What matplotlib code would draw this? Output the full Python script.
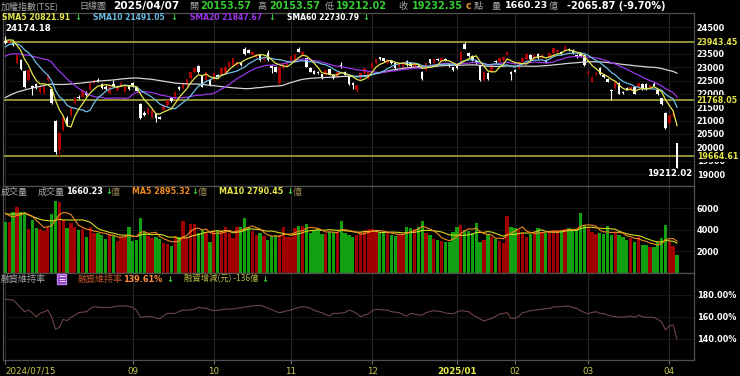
import numpy as np
import matplotlib.pyplot as plt

# daily candles, 2024/07/15 .. 2025/04/07
opens = [24000, 23920, 23900, 23150, 23270, 22860, 22520, 22290, 22360, 22080,
         22050, 22520, 22170, 21000, 19900, 20650, 21090, 21210, 21650, 21900,
         21900, 22050, 22150, 22400, 22520, 22360, 22270, 22020, 22370, 22150,
         22270, 22090, 22300, 22400, 22270, 21620, 21300, 21270, 21120, 21270,
         21130, 21400, 21580, 21840, 21835, 22270, 22210, 22330, 22580, 22830,
         23040, 22670, 22520, 22520, 22520, 22710, 22710, 22770, 23020, 23080,
         23080, 23145, 23670, 23640, 23460, 23370, 23455, 23270, 23520, 23080,
         23020, 22400, 22960, 23020, 23210, 23210, 23670, 23460, 23330, 22960,
         22870, 22830, 22730, 22710, 22920, 22710, 22650, 23080, 22830, 22670,
         22400, 22150, 22580, 22770, 22580, 22960, 23145, 23370, 23330, 23145,
         23250, 23145, 23020, 23020, 23230, 23170, 23020, 23050, 22830, 22895,
         23290, 23170, 23320, 23250, 23300, 23120, 22995, 23080, 23145, 23870,
         23545, 23420, 23250, 23080, 22520, 22800, 22830, 23230, 23210, 23270,
         23460, 22830, 22895, 22960, 23210, 23295, 23455, 23330, 23495, 23330,
         23270, 23330, 23520, 23580, 23580, 23620, 23700, 23640, 23460, 23520,
         23460, 22770, 22460, 22710, 22960, 22710, 22570, 22150, 22210, 22420,
         22070, 22210, 22150, 22250, 22270, 22370, 22370, 22210, 22370, 22150,
         21835, 21300, 20900, 21200, 20153.57]
highs = [24174.18, 24060, 23960, 23480, 23310, 22900, 22920, 22340, 22420, 22300,
         22320, 22740, 22200, 21030, 20560, 21180, 21160, 21480, 21860, 21960,
         22170, 22100, 22420, 22560, 22580, 22400, 22330, 22290, 22520, 22320,
         22440, 22290, 22350, 22450, 22300, 21650, 21350, 21480, 21420, 21300,
         21160, 21600, 21780, 21880, 22100, 22300, 22440, 22560, 22850, 22990,
         23080, 22700, 22850, 22560, 22790, 22740, 22980, 23040, 23230, 23350,
         23230, 23170, 23760, 23680, 23600, 23510, 23480, 23410, 23640, 23110,
         23050, 23040, 23160, 23160, 23440, 23510, 23750, 23600, 23360, 22990,
         22900, 22860, 22760, 22910, 22950, 22740, 22850, 23210, 22860, 22700,
         22430, 22350, 22790, 22980, 22850, 23170, 23310, 23400, 23360, 23290,
         23280, 23170, 23170, 23230, 23260, 23200, 23170, 23080, 22860, 23170,
         23320, 23310, 23350, 23350, 23330, 23150, 23020, 23110, 23600, 23950,
         23570, 23450, 23280, 23100, 22850, 22830, 23100, 23260, 23350, 23420,
         23600, 22860, 22920, 23230, 23350, 23520, 23480, 23480, 23520, 23480,
         23300, 23540, 23730, 23660, 23610, 23830, 23730, 23670, 23490, 23550,
         23490, 22890, 22670, 22810, 22990, 22740, 22600, 22180, 22480, 22450,
         22100, 22240, 22290, 22280, 22420, 22400, 22400, 22350, 22460, 22180,
         21860, 21330, 21220, 21320, 20153.57]
lows = [23880, 23890, 23780, 23110, 22880, 22230, 22480, 21960, 22180, 22040,
        22000, 22490, 21620, 19760, 19662, 20600, 20800, 21180, 21620, 21820,
        21880, 21930, 22130, 22380, 22430, 22180, 22150, 21990, 22280, 22120,
        22250, 22060, 22150, 22250, 22100, 21060, 21180, 21240, 21100, 20950,
        21050, 21380, 21560, 21700, 21800, 22150, 22190, 22300, 22560, 22800,
        22800, 22240, 22500, 22300, 22500, 22600, 22690, 22750, 23000, 23060,
        23060, 23050, 23470, 23520, 23440, 23350, 23250, 23250, 23250, 22770,
        22810, 22380, 22940, 23000, 23190, 23190, 23560, 23440, 23000, 22810,
        22730, 22750, 22560, 22690, 22690, 22560, 22630, 22970, 22690, 22350,
        22200, 22085, 22560, 22750, 22560, 22940, 23120, 23280, 23210, 23120,
        23120, 22940, 23000, 23000, 23060, 23020, 23000, 22980, 22510, 22870,
        23120, 23150, 23250, 23230, 23230, 23020, 22870, 22940, 23120, 23680,
        23400, 23250, 23120, 22500, 22500, 22520, 22810, 23160, 23190, 23250,
        23440, 22520, 22810, 22940, 23190, 23270, 23270, 23310, 23310, 23310,
        23160, 23310, 23500, 23560, 23470, 23600, 23620, 23500, 23350, 23370,
        23060, 22710, 22440, 22690, 22720, 22600, 22440, 21780, 22190, 21980,
        21990, 22130, 22130, 21980, 22250, 22150, 22130, 22190, 22290, 21970,
        21600, 20690, 20880, 21150, 19212.02]
closes = [23916, 24010, 23830, 23440, 22920, 22270, 22890, 22230, 22210, 22270,
          22300, 22710, 21670, 19840, 20520, 21150, 20840, 21460, 21835, 21840,
          22150, 21960, 22400, 22520, 22450, 22210, 22170, 22270, 22300, 22300,
          22420, 22270, 22200, 22300, 22120, 21090, 21210, 21460, 21400, 21090,
          21070, 21585, 21760, 21720, 22084, 22170, 22420, 22540, 22830, 22960,
          22830, 22270, 22830, 22330, 22770, 22620, 22960, 23020, 23210, 23330,
          23210, 23080, 23495, 23540, 23580, 23495, 23270, 23395, 23270, 22960,
          22830, 23020, 23145, 23145, 23420, 23495, 23580, 23580, 23020, 22830,
          22745, 22770, 22580, 22895, 22710, 22580, 22830, 22990, 22710, 22370,
          22330, 22330, 22770, 22960, 22830, 23145, 23290, 23300, 23230, 23270,
          23145, 22960, 23145, 23210, 23080, 23045, 23145, 23000, 22540, 23145,
          23145, 23290, 23270, 23330, 23250, 23045, 22895, 22960, 23580, 23700,
          23420, 23270, 23145, 22520, 22830, 22545, 23080, 23180, 23330, 23395,
          23580, 22745, 22830, 23210, 23330, 23495, 23295, 23455, 23330, 23455,
          23180, 23520, 23710, 23640, 23495, 23770, 23640, 23520, 23370, 23395,
          23080, 22830, 22650, 22795, 22745, 22620, 22460, 22100, 22460, 22000,
          22020, 22150, 22270, 22000, 22400, 22170, 22150, 22330, 22310, 21995,
          21620, 20710, 21200, 21298.22, 19232.35]

# closes before the window, only used to start the moving averages
pre_closes = [19527, 19710, 19949, 20365, 20126, 20247, 20386, 20396,
              20222, 20330, 20523, 20666, 20552, 20707, 20858, 20718, 20736, 20971,
              21173, 21258, 21264, 21164, 21275, 21473, 21535, 21590, 21780, 21489,
              21375, 21174,
              21536, 21356, 21858, 21902, 21858, 21947, 22122, 22345, 22504, 22497,
              22777, 23334, 23406, 23253, 22882, 22879, 23062, 22937, 23032,
              23105, 23129, 23500, 23544, 23556, 23878, 23900, 23878, 24390, 23916]

# turnover, 億
volumes = [4727, 4727, 5657, 6060, 5595, 5657, 4014, 4882, 4107, 4014,
           3890, 4355, 5440, 6680, 6556, 4882, 4169, 4634, 4262, 3952,
           4014, 3332, 4262, 3704, 3642, 3487, 3084, 3580, 3487, 2960,
           3270, 3332, 4200, 2960, 3022, 5099, 3735, 3394, 3177, 3332,
           3084, 2774, 2619, 2495, 3394, 3270, 4820, 3177, 4510, 4510,
           3642, 3952, 3642, 2867, 3952, 3890, 3952, 4200, 3642, 3177,
           4262, 4262, 5037, 4200, 3890, 3487, 3642, 3394, 3022, 3394,
           3487, 3487, 4262, 3270, 3332, 4107, 4324, 4324, 4510, 3704,
           3952, 4014, 3580, 3580, 3797, 3797, 3797, 4820, 3704, 3487,
           3332, 3487, 3797, 3952, 4014, 4014, 3797, 3704, 3642, 3704,
           3487, 3394, 3580, 3487, 4262, 4169, 4014, 4262, 4820, 3642,
           3487, 3084, 3022, 2960, 2867, 2867, 3797, 4262, 4417, 3952,
           3890, 3642, 4634, 2867, 3022, 3580, 3332, 3084, 2960, 2712,
           5254, 4262, 4107, 3952, 3642, 3332, 3580, 3704, 4107, 3797,
           3642, 3797, 3952, 3952, 3952, 4014, 4107, 3952, 4014, 5502,
           4417, 4262, 3797, 3580, 3642, 3580, 4324, 3487, 3704, 3487,
           3332, 3022, 3177, 2867, 3332, 2557, 2557, 2402, 2402, 2867,
           3177, 4417, 2867, 2464, 1660.23]
pre_volumes = [5200, 5600, 5900, 5400, 5100, 5800, 6200, 5500, 5300]

# 融資維持率 (%)
margin_ratio = [176.0, 175.8, 175.4, 172.0, 168.0, 164.7, 166.2, 163.5, 160.1, 163.2,
                164.5, 166.2, 160.0, 148.5, 150.3, 157.7, 156.5, 159.5, 161.5, 163.8,
                164.2, 164.7, 167.5, 169.3, 169.0, 168.5, 168.7, 168.3, 169.2, 169.9,
                169.8, 170.0, 169.5, 168.7, 166.0, 159.5, 159.8, 160.2, 160.1, 158.9,
                158.3, 161.0, 163.2, 163.0, 163.2, 164.8, 166.2, 166.0, 166.5, 166.9,
                168.7, 168.0, 167.8, 166.5, 165.6, 166.0, 166.5, 166.9, 167.0, 167.2,
                167.8, 168.5, 169.0, 169.5, 169.9, 170.2, 170.5, 169.5, 167.8, 166.5,
                165.0, 163.8, 164.5, 165.5, 166.2, 167.5, 168.5, 169.3, 168.8, 167.8,
                166.0, 164.8, 163.8, 162.0, 160.7, 163.2, 163.0, 163.5, 163.8, 166.2,
                165.0, 163.2, 160.1, 161.5, 162.6, 165.5, 166.9, 166.5, 166.2, 166.0,
                164.7, 164.2, 163.8, 162.0, 160.7, 163.0, 162.5, 161.8, 161.5, 163.8,
                164.8, 165.6, 165.2, 164.7, 163.5, 163.2, 162.6, 164.5, 165.6, 165.2,
                164.7, 162.0, 160.1, 158.0, 156.2, 157.5, 158.5, 160.5, 162.5, 163.2,
                163.8, 158.6, 158.6, 160.5, 163.8, 164.5, 165.6, 166.0, 166.5, 166.9,
                167.5, 167.8, 169.0, 169.3, 169.3, 169.6, 169.9, 168.5, 167.8, 165.5,
                164.0, 162.6, 164.0, 164.7, 163.2, 163.0, 161.5, 160.7, 160.0, 159.5,
                160.0, 159.8, 160.7, 159.5, 161.5, 160.1, 159.5, 159.5, 159.5, 157.5,
                155.5, 148.0, 151.6, 152.5, 139.61]

levels = [23943.45, 21768.05, 19664.61]
price_ticks = [19000, 19500, 20000, 20500, 21000, 21500, 22000, 22500, 23000, 23500, 24500]
month_idx = [0, 33, 54, 74, 95, 117, 132, 151, 172]
month_labels = ['2024/07/15', '09', '10', '11', '12', '2025/01', '02', '03', '04']

CJK = ['Noto Sans CJK TC', 'DejaVu Sans']
GRAY = '#a8a8a8'
GREEN_TXT = '#33cc33'
UP = '#b00000'
DOWN = '#ffffff'

n = len(closes)
x = np.arange(n)


def sma(values, pre, w):
    full = np.concatenate([pre, values])
    out = np.convolve(full, np.ones(w) / w, mode='valid')
    return out[-len(values):]


sma5 = sma(closes, pre_closes, 5)
sma10 = sma(closes, pre_closes, 10)
sma20 = sma(closes, pre_closes, 20)
sma60 = sma(closes, pre_closes, 60)
vma5 = sma(volumes, pre_volumes, 5)
vma10 = sma(volumes, pre_volumes, 10)

fig = plt.figure(figsize=(7.4, 3.76), dpi=100, facecolor='black')


def panel(top, bottom):
    ax = fig.add_axes([3 / 740, 1 - bottom / 376, 691 / 740, (bottom - top) / 376])
    ax.set_facecolor('black')
    for s in ax.spines.values():
        s.set_color('#505050')
        s.set_linewidth(0.9)
    ax.yaxis.tick_right()
    ax.tick_params(axis='y', length=0, pad=2, labelsize=5.9, labelcolor='white')
    ax.set_xlim(-0.6, 178.4)
    for m in month_idx:
        ax.axvline(m, color='#262626', lw=0.8, zorder=0)
    return ax


def put(xp, yp, s, color, size=6.0, bold=True, cjk=False):
    fig.text(xp / 740, 1 - yp / 376, s, color=color, fontsize=size,
             fontweight='bold' if bold else 'normal', ha='left', va='center',
             family=CJK if cjk else 'DejaVu Sans')


# ---- price panel
ax1 = panel(13, 186)
ax1.set_ylim(18551, 25030)
ax1.set_yticks(price_ticks)
ax1.set_yticklabels([str(t) for t in price_ticks], fontweight='bold')
for t in range(19000, 25000, 500):
    ax1.axhline(t, color='#161616', lw=0.7, zorder=0)
ax1.set_xticks([])

cols = [UP if c >= o else DOWN for o, c in zip(opens, closes)]
ax1.vlines(x, lows, highs, colors=cols, lw=0.8, zorder=3)
bodies = [max(abs(c - o), 18) for o, c in zip(opens, closes)]
ax1.bar(x, bodies, bottom=np.minimum(opens, closes), width=0.64, color=cols, zorder=3)

ax1.plot(x, sma60, color='#d6d6d6', lw=0.9, zorder=4)
ax1.plot(x, sma20, color='#9b35e8', lw=0.9, zorder=4)
ax1.plot(x, sma10, color='#6cbde6', lw=0.9, zorder=4)
ax1.plot(x, sma5, color='#e6e64a', lw=0.9, zorder=4)

for lv in levels:
    ax1.axhline(lv, color='#a8a83c', lw=1.2, zorder=2)
    ax1.text(1.004, lv, f'{lv:.2f}', transform=ax1.get_yaxis_transform(),
             color='#e6e64a', fontsize=5.7, fontweight='bold', va='center', ha='left',
             clip_on=False, zorder=6,
             bbox=dict(facecolor='black', edgecolor='none', pad=0.6))

imax = int(np.argmax(highs))
ax1.annotate(f'{highs[imax]:.2f}', (imax, highs[imax]), xytext=(0, 2),
             textcoords='offset points', color='white', fontsize=6.2,
             fontweight='bold', ha='left', va='bottom')
ax1.text(177.9, lows[-1] - 40, f'{lows[-1]:.2f}', color='white', fontsize=6.2,
         fontweight='bold', ha='right', va='top')

# ---- volume panel
ax2 = panel(186, 272.5)
ax2.set_ylim(0, 8047)
ax2.set_yticks([2000, 4000, 6000])
ax2.set_yticklabels(['2000', '4000', '6000'], fontweight='bold')
for t in [2000, 4000, 6000]:
    ax2.axhline(t, color='#161616', lw=0.7, zorder=0)
ax2.set_xticks([])
vcols = ['#a00000' if c >= o else '#10a010' for o, c in zip(opens, closes)]
ax2.bar(x, volumes, width=0.86, color=vcols, zorder=2)
ax2.plot(x, vma10, color='#d8d820', lw=0.8, zorder=3)
ax2.plot(x, vma5, color='#f08a20', lw=0.8, zorder=3)

# ---- margin ratio panel
ax3 = panel(272.5, 360)
ax3.set_ylim(120.4, 200.6)
ax3.set_yticks([140, 160, 180])
ax3.set_yticklabels(['140.00%', '160.00%', '180.00%'], fontweight='bold')
for t in [140, 160, 180]:
    ax3.axhline(t, color='#161616', lw=0.7, zorder=0)
ax3.plot(x, margin_ratio, color='#6e4444', lw=0.8)
ax3.set_xticks(month_idx)
ax3.set_xticklabels(month_labels)
ax3.tick_params(axis='x', length=3, color='#707070', pad=2, labelsize=6.3,
                labelcolor='#c8c850')
for lab in ax3.get_xticklabels():
    if lab.get_text() == '2025/01':
        lab.set_fontweight('bold')
        lab.set_color('#eaea50')
ax3.get_xticklabels()[0].set_ha('left')

# ---- header lines
put(1, 6, '加權指數(TSE)', GRAY, 6.5, False, True)
put(79, 6, '日線圖', GRAY, 6.5, False, True)
put(113, 6, '2025/04/07', 'white', 7.6)
put(189, 6, '開', GRAY, 6.5, False, True)
put(200, 6, '20153.57', GREEN_TXT, 7.0)
put(258, 6, '高', GRAY, 6.5, False, True)
put(269, 6, '20153.57', GREEN_TXT, 7.0)
put(325, 6, '低', GRAY, 6.5, False, True)
put(336, 6, '19212.02', GREEN_TXT, 7.0)
put(398, 6, '收', GRAY, 6.5, False, True)
put(412, 6, '19232.35', GREEN_TXT, 7.0)
put(466, 6, 'c', '#e09030', 7.0)
put(474, 6, '點', GRAY, 6.5, False, True)
put(492, 6, '量', GRAY, 6.5, False, True)
put(505, 6, '1660.23', 'white', 6.8)
put(549, 6, '億', GRAY, 6.5, False, True)
put(567, 6, '-2065.87 (-9.70%)', 'white', 7.0)

put(2, 17.5, 'SMA5 20821.91', '#e6e64a', 5.6)
put(74, 17.5, '↓', GREEN_TXT, 6.0)
put(93, 17.5, 'SMA10 21491.05', '#6cb8e0', 5.5)
put(170, 17.5, '↓', GREEN_TXT, 6.0)
put(190, 17.5, 'SMA20 21847.67', '#9b35e8', 5.5)
put(268, 17.5, '↓', GREEN_TXT, 6.0)
put(287, 17.5, 'SMA60 22730.79', 'white', 5.5)
put(362, 17.5, '↓', GREEN_TXT, 6.0)

put(1, 192, '成交量', GRAY, 6.5, False, True)
put(38, 192, '成交量', GRAY, 6.5, False, True)
put(66, 192, '1660.23', 'white', 5.9)
put(105, 192, '↓', GREEN_TXT, 6.0)
put(111, 192, '億', '#a08a50', 6.5, False, True)
put(132, 192, 'MA5 2895.32', '#f08a20', 5.7)
put(191, 192, '↓', GREEN_TXT, 6.0)
put(198, 192, '億', '#a08a50', 6.5, False, True)
put(219, 192, 'MA10 2790.45', '#e6e64a', 5.8)
put(286, 192, '↓', GREEN_TXT, 6.0)
put(293, 192, '億', '#a08a50', 6.5, False, True)

put(1, 279, '融資維持率', GRAY, 6.5, False, True)
fig.text(58 / 740, 1 - 279 / 376, '☰', color='white', fontsize=5.5, ha='left',
         va='center', bbox=dict(facecolor='#9040c0', edgecolor='#c080f0', pad=0.5))
put(78, 279, '融資維持率', '#c8562a', 6.5, False, True)
put(123, 279, '139.61%', '#ff8c3a', 5.9)
put(166, 279, '↓', GREEN_TXT, 6.0)
put(184, 279, '融資增減(元) -136億', '#b8b840', 6.0, False, True)
put(261, 279, '↓', GREEN_TXT, 6.0)

fig.savefig('out.png', dpi=100, facecolor='black')
